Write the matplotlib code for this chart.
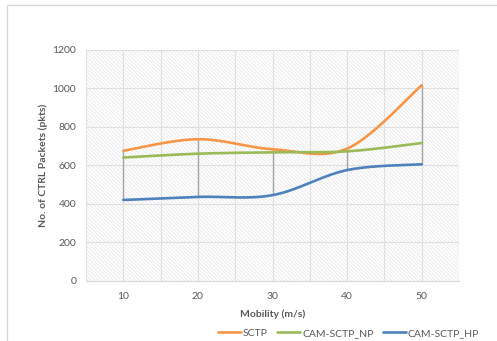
import numpy as np
import matplotlib
matplotlib.use("Agg")
import matplotlib.pyplot as plt
from matplotlib.patches import Rectangle

mobility = [10, 20, 30, 40, 50]
sctp = [675, 735, 683, 686, 1015]
cam_sctp_np = [640, 660, 667, 672, 715]
cam_sctp_hp = [420, 436, 445, 575, 605]

series = [("SCTP", sctp, "#F79646"),
          ("CAM-SCTP_NP", cam_sctp_np, "#9BBB59"),
          ("CAM-SCTP_HP", cam_sctp_hp, "#4F81BD")]

plt.rcParams['font.family'] = ['Lato', 'DejaVu Sans']
plt.rcParams['hatch.linewidth'] = 0.5
plt.rcParams['hatch.color'] = '#e4e4e4'
txt = '#595959'


def smooth(xs, ys, n=40):
    # cubic bezier through the points, excel style (catmull-rom tangents)
    px = [xs[0]] + list(xs) + [xs[-1]]
    py = [ys[0]] + list(ys) + [ys[-1]]
    ox, oy = [], []
    t = np.linspace(0, 1, n)
    for i in range(1, len(px) - 2):
        p0 = np.array([px[i], py[i]])
        p3 = np.array([px[i + 1], py[i + 1]])
        c1 = p0 + (np.array([px[i + 1], py[i + 1]]) - np.array([px[i - 1], py[i - 1]])) / 6
        c2 = p3 - (np.array([px[i + 2], py[i + 2]]) - p0) / 6
        pts = ((1 - t) ** 3)[:, None] * p0 + (3 * (1 - t) ** 2 * t)[:, None] * c1 \
            + (3 * (1 - t) * t ** 2)[:, None] * c2 + (t ** 3)[:, None] * p3
        ox.extend(pts[:, 0])
        oy.extend(pts[:, 1])
    return ox, oy


fig = plt.figure(figsize=(4.97, 3.41), dpi=100)
fig.patches.append(Rectangle((7 / 497, -0.2), 1.2, 1.2 - 5 / 341,
                             transform=fig.transFigure, fill=False,
                             edgecolor='#d9d9d9', lw=1))
ax = fig.add_axes([86 / 497, 1 - 281 / 341, 373 / 497, 231.5 / 341])

ax.add_patch(Rectangle((0, 0), 1, 1, transform=ax.transAxes, facecolor='white',
                       hatch='\\' * 9, edgecolor='#e4e4e4', lw=0, zorder=0))

ax.set_xlim(5, 55)
ax.set_ylim(0, 1200)
ax.set_yticks(range(0, 1201, 200))
ax.set_xticks(mobility)
ax.set_xticks(np.arange(5, 56, 5), minor=True)
ax.grid(True, which='both', axis='x', color='#e0e0e0', lw=0.8, zorder=1)
ax.grid(True, which='major', axis='y', color='#e0e0e0', lw=0.8, zorder=1)
ax.tick_params(which='both', length=0, colors=txt, labelsize=7.5)
ax.tick_params(axis='y', pad=7)
ax.tick_params(axis='x', pad=8)
for s in ['top', 'right', 'left']:
    ax.spines[s].set_visible(False)
ax.spines['bottom'].set_color('#d9d9d9')

# high-low lines
hi = np.max([sctp, cam_sctp_np, cam_sctp_hp], axis=0)
lo = np.min([sctp, cam_sctp_np, cam_sctp_hp], axis=0)
ax.vlines(mobility, lo, hi, color='#a6a6a6', lw=1, zorder=2)

for name, vals, col in series:
    sx, sy = smooth(mobility, vals)
    ax.plot(sx, sy, color=col, lw=1.9, label=name, zorder=3,
            solid_capstyle='round')

ax.set_xlabel("Mobility (m/s)", fontsize=7.5, fontweight='bold', color=txt, labelpad=6)
ax.set_ylabel("No. of CTRL Packets (pkts)", fontsize=7.5, fontweight='bold', color=txt, labelpad=3)

leg = fig.legend(loc='lower right', bbox_to_anchor=(0.983, -0.018), ncol=3, frameon=False,
                 fontsize=7.5, handlelength=2.2, handletextpad=0.2, columnspacing=0.9)
for t in leg.get_texts():
    t.set_color(txt)

fig.savefig("out.png", dpi=100)
